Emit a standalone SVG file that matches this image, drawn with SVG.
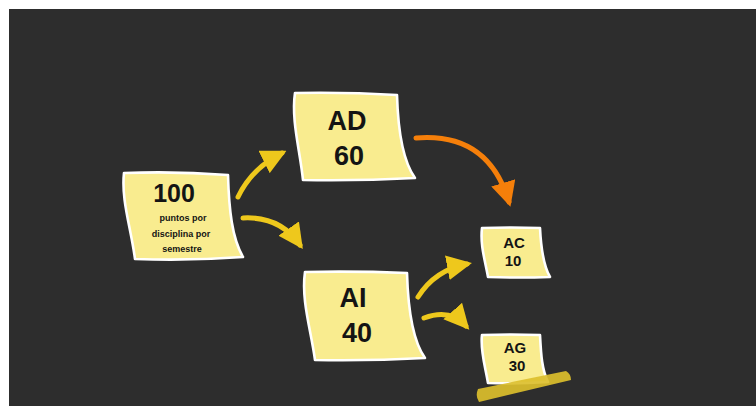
<svg xmlns="http://www.w3.org/2000/svg" width="756" height="406" viewBox="0 0 756 406">
<defs>
<style>
.note{fill:#f9ec8f;stroke:#ffffff;stroke-width:2.6;stroke-linejoin:round}
.big{font-family:"Liberation Sans",Arial,sans-serif;font-weight:bold;fill:#141414;text-anchor:middle}
.small{font-family:"Liberation Sans",Arial,sans-serif;font-weight:bold;fill:#141414;text-anchor:middle;font-size:9px}
.arr{fill:none;stroke-width:5;stroke-linecap:round}
.y{stroke:#eec81c}
.o{stroke:#f57f0a}
</style>
<marker id="hy" viewBox="0 0 10 10" refX="8" refY="5" markerWidth="5" markerHeight="5" markerUnits="strokeWidth" orient="auto"><path d="M0,0 L10,5 L0,10 Z" fill="#eec81c"/></marker>
<marker id="ho" viewBox="0 0 10 10" refX="8" refY="5" markerWidth="5" markerHeight="5" markerUnits="strokeWidth" orient="auto"><path d="M0,0 L10,5 L0,10 Z" fill="#f57f0a"/></marker>
</defs>
<rect x="0" y="0" width="756" height="406" fill="#ffffff"/>
<rect x="9" y="9" width="747" height="397" fill="#2d2d2d"/>

<g id="connectors">
<path class="arr y" d="M238,197 Q252,168 282,153" marker-end="url(#hy)"/>
<path class="arr y" d="M243,218 Q280,216 300,245" marker-end="url(#hy)"/>
<path class="arr o" d="M416,138 Q488,132 509,202" marker-end="url(#ho)"/>
<path class="arr y" d="M418,297 Q435,270 467,264" marker-end="url(#hy)"/>
<path class="arr y" d="M424,318 Q450,308 466,326" marker-end="url(#hy)"/>
</g>

<g id="n100">
<path class="note" d="M124,173 Q176,171 228,175 C229,210 232,238 243,257 Q189,261 135,259 C131,228 121,200 124,173 Z"/>
<text class="big" x="174" y="202" font-size="25">100</text>
<text class="small" x="183" y="221">puntos por</text>
<text class="small" x="181" y="237">disciplina por</text>
<text class="small" x="182" y="252">semestre</text>
</g>

<g id="nAD">
<path class="note" d="M295,93 Q346,92 397,95 C398,130 402,160 415,178 Q359,181 303,180 C300,150 291,120 295,93 Z"/>
<text class="big" x="347" y="130" font-size="27">AD</text>
<text class="big" x="349" y="165" font-size="27">60</text>
</g>

<g id="nAI">
<path class="note" d="M305,272 Q356,271 407,273 C408,308 412,340 425,358 Q370,361 315,360 C311,330 301,300 305,272 Z"/>
<text class="big" x="353" y="307" font-size="27">AI</text>
<text class="big" x="357" y="342" font-size="27">40</text>
</g>

<g id="nAC">
<path class="note" d="M482,228 Q511,227 540,228 C541,248 543,265 550,277 Q519,278 488,277 C485,260 480,245 482,228 Z"/>
<text class="big" x="514" y="248" font-size="15">AC</text>
<text class="big" x="513" y="266" font-size="15">10</text>
</g>

<g id="nAG">
<path class="note" d="M482,335 Q511,334 540,335 C541,355 542,370 548,382 Q518,384 488,383 C485,365 480,350 482,335 Z"/>
<text class="big" x="515" y="353" font-size="15">AG</text>
<text class="big" x="517" y="371" font-size="15">30</text>
<path d="M478,389 L566,371 Q571,374 571,380 L479,402 Q475,396 478,389 Z" fill="#dcbf2c" opacity="0.92"/>
</g>
</svg>
